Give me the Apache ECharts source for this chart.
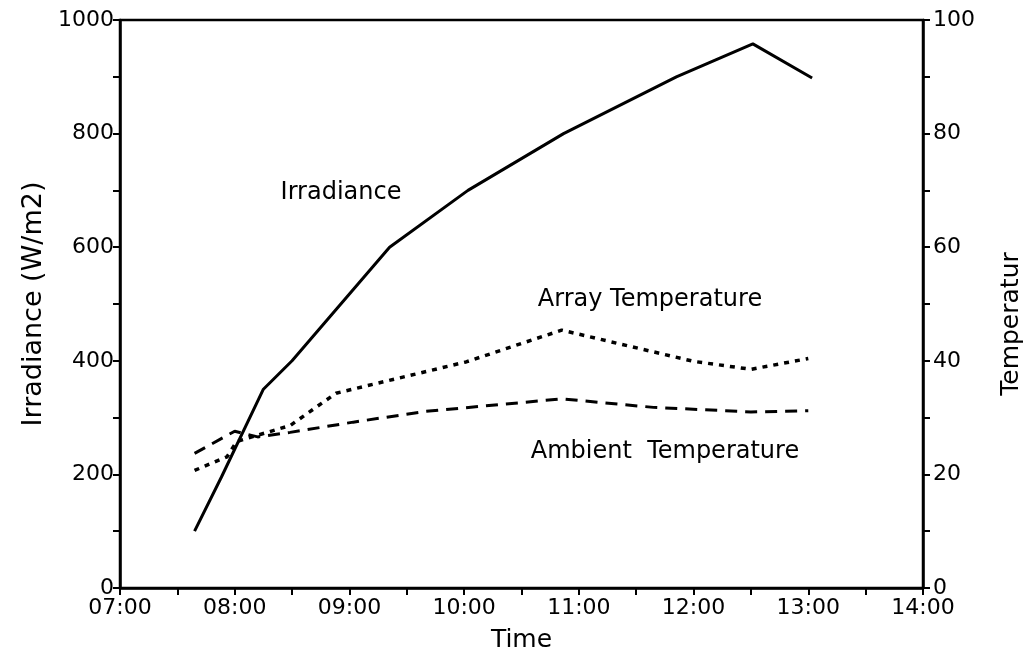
<!DOCTYPE html>
<html>
<head>
<meta charset="utf-8">
<script src="https://cdn.jsdelivr.net/npm/echarts@6/dist/echarts.min.js"></script>
<style>
html,body{margin:0;padding:0;background:#fff;}
#chart{width:1026px;height:664px;}
</style>
</head>
<body>
<div id="chart"></div>
<script>
// ---- data ----
const irrTimes = ["07:39","07:53","08:15","08:30","09:21","10:02","10:52","11:51","12:31","13:02"];
const irradiance = [100, 195, 350, 400, 600, 700, 800, 900, 958, 898];

const arrayTimes = ["07:39","07:56","08:01","08:29","08:53","10:01","10:51","12:00","12:30","13:00"];
const arrayTemp = [20.7, 23.1, 25.8, 28.6, 34.3, 39.8, 45.4, 39.9, 38.5, 40.4];

const ambTimes = ["07:39","08:00","08:12","08:29","09:02","09:40","10:51","11:39","12:30","13:00"];
const ambientTemp = [23.7, 27.6, 26.6, 27.4, 29.2, 31.1, 33.3, 31.8, 31.0, 31.2];

const timeMin = "07:00", timeMax = "14:00";

// ---- helpers ----
function toMin(s){ const p = s.split(":"); return (+p[0])*60 + (+p[1]); }
function fmt(m){ const h = Math.floor(m/60), mm = m%60; return String(h).padStart(2,"0")+":"+String(mm).padStart(2,"0"); }
function pairs(ts, vs){ return ts.map((t,i)=>[toMin(t), vs[i]]); }

const FONT = "DejaVu Sans";
const chart = echarts.init(document.getElementById('chart'), null, {renderer:'canvas'});
const axisCommon = {
  axisLine:{show:true, onZero:false, lineStyle:{color:'#000', width:2.5}},
  axisTick:{show:true, inside:false, length:7, lineStyle:{color:'#000', width:2}},
  minorTick:{show:true, splitNumber:2, length:7, lineStyle:{color:'#000', width:2}},
  splitLine:{show:false},
  minorSplitLine:{show:false}
};
chart.setOption({
  backgroundColor:'#fff',
  animation:false,
  grid:{left:120, right:103, top:20, bottom:76, outerBoundsMode:'none', containLabel:false,
        show:true, borderColor:'#000', borderWidth:2.5, backgroundColor:'transparent'},
  xAxis:Object.assign({
    type:'value', min:toMin(timeMin), max:toMin(timeMax), interval:60,
    name:'Time', nameLocation:'middle', nameGap:40,
    nameTextStyle:{fontFamily:FONT, fontSize:25, color:'#000'},
    axisLabel:{formatter:fmt, fontFamily:FONT, fontSize:22, color:'#000', margin:9}
  }, axisCommon),
  yAxis:[
    Object.assign({
      type:'value', min:0, max:1000, interval:200, position:'left',
      name:'Irradiance (W/m2)', nameLocation:'middle', nameGap:44, nameRotate:90,
      nameTextStyle:{fontFamily:FONT, fontSize:27, color:'#000'},
      axisLabel:{formatter:function(v){return String(v);}, fontFamily:FONT, fontSize:22, color:'#000', margin:6}
    }, axisCommon),
    Object.assign({
      type:'value', min:0, max:100, interval:20, position:'right',
      name:'Temperatur', nameLocation:'middle', nameGap:76, nameRotate:90,
      nameTextStyle:{fontFamily:FONT, fontSize:25, color:'#000', padding:[0,40,0,0]},
      axisLabel:{formatter:function(v){return String(v);}, fontFamily:FONT, fontSize:22, color:'#000', margin:10}
    }, axisCommon)
  ],
  series:[
    {name:'Irradiance', type:'line', yAxisIndex:0, data:pairs(irrTimes, irradiance),
     showSymbol:false, lineStyle:{color:'#000', width:3, type:'solid'}},
    {name:'Array Temperature', type:'line', yAxisIndex:1, data:pairs(arrayTimes, arrayTemp),
     showSymbol:false, lineStyle:{color:'#000', width:3.5, type:[5,6]}},
    {name:'Ambient Temperature', type:'line', yAxisIndex:1, data:pairs(ambTimes, ambientTemp),
     showSymbol:false, lineStyle:{color:'#000', width:3, type:[12,8]}}
  ],
  graphic:[
    {type:'text', x:341, y:193, style:{text:'Irradiance', font:'24px "DejaVu Sans"', fill:'#000', align:'center', verticalAlign:'middle'}},
    {type:'text', x:650, y:300, style:{text:'Array Temperature', font:'24px "DejaVu Sans"', fill:'#000', align:'center', verticalAlign:'middle'}},
    {type:'text', x:665, y:452, style:{text:'Ambient  Temperature', font:'24px "DejaVu Sans"', fill:'#000', align:'center', verticalAlign:'middle'}}
  ]
});
</script>
</body>
</html>
